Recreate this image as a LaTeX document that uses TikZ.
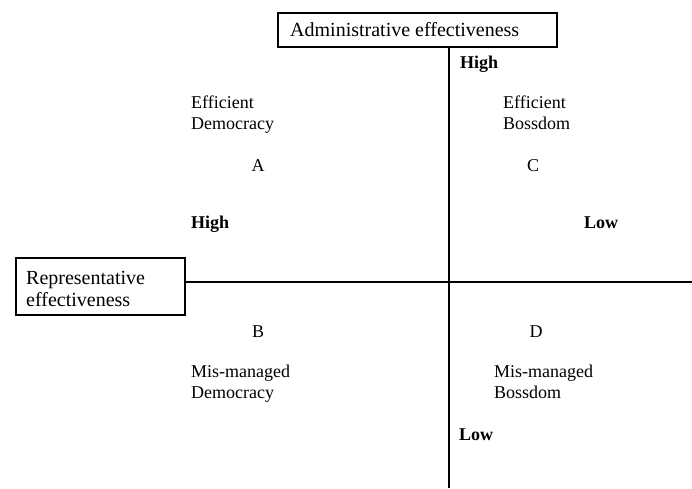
\documentclass[tikz,border=0pt]{standalone}
\usepackage{fontspec}
\setmainfont{Liberation Serif}
\begin{document}
\begin{tikzpicture}[x=1pt,y=-1pt,
  boxstyle/.style={draw=black, line width=2pt, inner sep=0pt, anchor=north west},
  boxtext/.style={anchor=base west, inner sep=0pt, align=left, font=\fontsize{20}{22}\selectfont},
  quad/.style={anchor=base west, inner sep=0pt, align=left, font=\fontsize{18}{21}\selectfont},
  letter/.style={anchor=base, inner sep=0pt, font=\fontsize{18}{21}\selectfont},
  level/.style={anchor=base west, inner sep=0pt, font=\fontsize{18}{21}\selectfont\bfseries},
  axis/.style={draw=black, line width=1.8pt}]
\useasboundingbox (0,0) rectangle (692,488);
% boxes
\node[boxstyle, minimum width=279pt, minimum height=34pt] (topbox) at (277,12) {};
\node[boxtext] (toptext) at (290,36) {Administrative effectiveness};
\node[boxstyle, minimum width=169pt, minimum height=57pt] (leftbox) at (15,257) {};
\node[boxtext] (lefttext) at (26,306) {Representative\\effectiveness};
% axes
\coordinate (vbot) at (449,488);
\coordinate (hend) at (692,282);
\draw[axis] (topbox.south -| vbot) -- (vbot);
\draw[axis] (leftbox.east |- hend) -- (hend);
% levels
\node[level] (hightop) at (460,68) {High};
\node[level] (highleft) at (191,228) {High};
\node[level] (lowright) at (584,228) {Low};
\node[level] (lowbot) at (459,440) {Low};
% quadrants
\node[quad] (qa) at (191,129) {Efficient\\Democracy};
\node[letter] (la) at (258,171) {A};
\node[quad] (qc) at (503,129) {Efficient\\Bossdom};
\node[letter] (lc) at (533,171) {C};
\node[letter] (lb) at (258,337) {B};
\node[quad] (qb) at (191,398) {Mis-managed\\Democracy};
\node[letter] (ld) at (536,337) {D};
\node[quad] (qd) at (494,398) {Mis-managed\\Bossdom};
\end{tikzpicture}
\end{document}
